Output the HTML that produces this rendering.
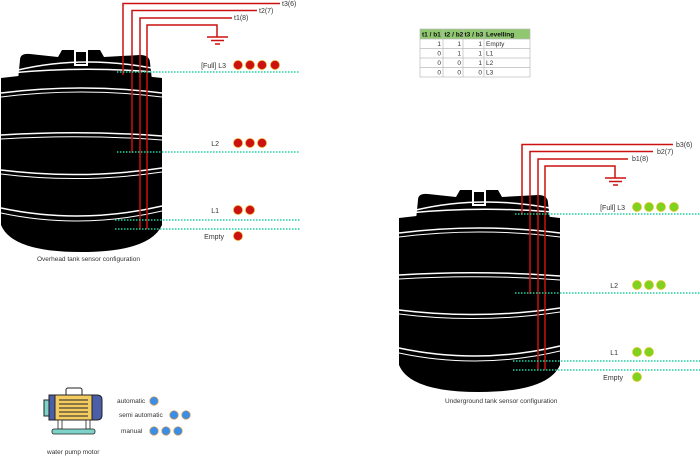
<!DOCTYPE html>
<html><head><meta charset="utf-8"><style>
html,body{margin:0;padding:0;background:#fff;width:700px;height:456px;overflow:hidden}
svg{display:block;font-family:"Liberation Sans",sans-serif}
</style></head><body>
<svg width="700" height="456" viewBox="0 0 700 456">
<defs>
<g id="tank">
  <path d="M20,60 Q20,53 30,54 L58,57 L62,50 L100,50 L104,57 L140,55 Q150,55 150,63 L152,80 L18,80 Z" fill="#000"/>
  <rect x="75" y="51" width="12" height="14" fill="#000" stroke="#fff" stroke-width="2"/>
  <path d="M18,70 Q81,55 152,68" fill="none" stroke="#fff" stroke-width="1.5"/>
  <path d="M1,78 Q81,68 162,78 L162,225 Q150,252 81,252 Q12,252 1,225 Z" fill="#000"/>
  <path d="M10,73 Q81,66 155,72" fill="none" stroke="#fff" stroke-width="1.5"/>
  <path d="M1,93 Q81,83 162,93" fill="none" stroke="#fff" stroke-width="1.5"/>
  <path d="M1,97 Q81,87 162,97" fill="none" stroke="#fff" stroke-width="1"/>
  <path d="M1,135 Q81,130 162,136" fill="none" stroke="#fff" stroke-width="1.5"/>
  <path d="M1,139 Q81,134 162,140" fill="none" stroke="#fff" stroke-width="1"/>
  <path d="M1,170 Q81,180 162,168" fill="none" stroke="#fff" stroke-width="1.5"/>
  <path d="M1,174 Q81,184 162,172" fill="none" stroke="#fff" stroke-width="1"/>
  <path d="M1,208 Q81,225 162,206" fill="none" stroke="#fff" stroke-width="1.5"/>
  <path d="M1,213 Q81,230 162,211" fill="none" stroke="#fff" stroke-width="1"/>
</g>
</defs>

<g>
  <use href="#tank"/>
  <g stroke="#cc1111" stroke-width="1.5" fill="none">
    <path d="M123,75 V3.5 H280"/><path d="M132,153 V10.5 H257"/><path d="M140,229 V18 H232"/><path d="M147,229 V25 H217 V37"/>
    <path d="M207,37 H228 M211,40.5 H224 M215,44 H220"/>
  </g>
  <g font-size="7" fill="#333">
    <text x="282" y="6">t3(6)</text><text x="259" y="13">t2(7)</text><text x="234" y="20">t1(8)</text>
  </g>
  <g stroke="#1fd0a0" stroke-width="1.6" stroke-dasharray="1.5 1.5">
    <line x1="117" y1="72" x2="300" y2="72"/><line x1="117" y1="152" x2="300" y2="152"/>
    <line x1="115" y1="220" x2="300" y2="220"/><line x1="115" y1="229" x2="300" y2="229"/>
  </g>
  <g font-size="7" fill="#333" text-anchor="end">
    <text x="226" y="68">[Full] L3</text><text x="219" y="146">L2</text><text x="219" y="213">L1</text><text x="224" y="239">Empty</text>
  </g>
  <g fill="#cc1111" stroke="#e8a020" stroke-width="0.7">
    <circle cx="238" cy="65" r="4.5"/><circle cx="250" cy="65" r="4.5"/><circle cx="262" cy="65" r="4.5"/><circle cx="275" cy="65" r="4.5"/>
    <circle cx="238" cy="143" r="4.5"/><circle cx="250" cy="143" r="4.5"/><circle cx="262" cy="143" r="4.5"/>
    <circle cx="238" cy="210" r="4.5"/><circle cx="250" cy="210" r="4.5"/>
    <circle cx="238" cy="236" r="4.5"/>
  </g>
  <text x="37" y="261" font-size="6.5" fill="#333">Overhead  tank sensor configuration</text>
</g>

<g font-size="6.5">
  <rect x="420" y="29" width="110" height="10" fill="#8fc870"/>
  <g stroke="#bbb" stroke-width="0.7" fill="none">
    <rect x="420" y="29" width="110" height="48"/>
    <line x1="420" y1="39" x2="530" y2="39"/><line x1="420" y1="48.5" x2="530" y2="48.5"/><line x1="420" y1="58" x2="530" y2="58"/><line x1="420" y1="67.5" x2="530" y2="67.5"/>
    <line x1="443" y1="29" x2="443" y2="77"/><line x1="463" y1="29" x2="463" y2="77"/><line x1="484" y1="29" x2="484" y2="77"/>
  </g>
  <g font-weight="bold" fill="#111"><text x="422" y="36.5">t1 / b1</text><text x="444.5" y="36.5">t2 / b2</text><text x="464.5" y="36.5">t3 / b3</text><text x="486" y="36.5">Levelling</text></g>
  <g fill="#333" text-anchor="end">
    <text x="441" y="46">1</text><text x="461" y="46">1</text><text x="482" y="46">1</text>
    <text x="441" y="55.5">0</text><text x="461" y="55.5">1</text><text x="482" y="55.5">1</text>
    <text x="441" y="65">0</text><text x="461" y="65">0</text><text x="482" y="65">1</text>
    <text x="441" y="74.5">0</text><text x="461" y="74.5">0</text><text x="482" y="74.5">0</text>
  </g>
  <g fill="#333"><text x="486" y="46">Empty</text><text x="486" y="55.5">L1</text><text x="486" y="65">L2</text><text x="486" y="74.5">L3</text></g>
</g>

<g>
  <use href="#tank" transform="translate(398,140)"/>
  <g stroke="#cc1111" stroke-width="1.5" fill="none">
    <path d="M522,215 V144.5 H673"/><path d="M530,294 V151.5 H653"/><path d="M538,370 V159 H628"/><path d="M545,370 V166 H615 V178"/>
    <path d="M605,178 H626 M609,181.5 H622 M613,185 H618"/>
  </g>
  <g font-size="7" fill="#333">
    <text x="676" y="147">b3(6)</text><text x="657" y="154">b2(7)</text><text x="632" y="161">b1(8)</text>
  </g>
  <g stroke="#1fd0a0" stroke-width="1.6" stroke-dasharray="1.5 1.5">
    <line x1="515" y1="214" x2="700" y2="214"/><line x1="515" y1="293" x2="700" y2="293"/>
    <line x1="513" y1="361" x2="700" y2="361"/><line x1="513" y1="370" x2="700" y2="370"/>
  </g>
  <g font-size="7" fill="#333" text-anchor="end">
    <text x="625" y="210">[Full] L3</text><text x="618" y="288">L2</text><text x="618" y="355">L1</text><text x="623" y="380">Empty</text>
  </g>
  <g fill="#7ed321" stroke="#e8c020" stroke-width="0.7">
    <circle cx="637" cy="207" r="4.5"/><circle cx="649" cy="207" r="4.5"/><circle cx="661" cy="207" r="4.5"/><circle cx="674" cy="207" r="4.5"/>
    <circle cx="637" cy="285" r="4.5"/><circle cx="649" cy="285" r="4.5"/><circle cx="661" cy="285" r="4.5"/>
    <circle cx="637" cy="352" r="4.5"/><circle cx="649" cy="352" r="4.5"/>
    <circle cx="637" cy="377" r="4.5"/>
  </g>
  <text x="445" y="403" font-size="6.5" fill="#333">Underground tank sensor configuration</text>
</g>

<g>
  <rect x="66" y="388" width="16" height="8" rx="2" fill="#fff" stroke="#222" stroke-width="1"/>
  <rect x="44" y="400" width="7" height="16" fill="#7dd3c8" stroke="#222" stroke-width="1"/>
  <path d="M49,395 H97 Q102,395 102,400 V415 Q102,420 97,420 H49 Z" fill="#4a5fa8" stroke="#222" stroke-width="1"/>
  <rect x="55" y="395" width="37" height="25" fill="#f2cc60" stroke="#222" stroke-width="1"/>
  <g stroke="#222" stroke-width="1"><line x1="59" y1="400" x2="88" y2="400"/><line x1="59" y1="404" x2="88" y2="404"/><line x1="59" y1="408" x2="88" y2="408"/><line x1="59" y1="412" x2="88" y2="412"/><line x1="59" y1="416" x2="88" y2="416"/></g>
  <rect x="58" y="420" width="4" height="9" fill="#fff" stroke="#222" stroke-width="0.8"/>
  <rect x="86" y="420" width="4" height="9" fill="#fff" stroke="#222" stroke-width="0.8"/>
  <rect x="52" y="429" width="43" height="5" rx="2" fill="#7dd3c8" stroke="#222" stroke-width="0.8"/>
  <text x="47" y="454" font-size="6.5" fill="#333">water pump motor</text>
</g>
<g font-size="6.5" fill="#333">
  <text x="117" y="403">automatic</text><text x="119" y="417">semi automatic</text><text x="121" y="433">manual</text>
</g>
<g fill="#3a8ee6" stroke="#e8a050" stroke-width="0.7">
  <circle cx="154" cy="401" r="4.3"/>
  <circle cx="174" cy="415" r="4.3"/><circle cx="186" cy="415" r="4.3"/>
  <circle cx="154" cy="431" r="4.3"/><circle cx="166" cy="431" r="4.3"/><circle cx="178" cy="431" r="4.3"/>
</g>
</svg>
</body></html>
